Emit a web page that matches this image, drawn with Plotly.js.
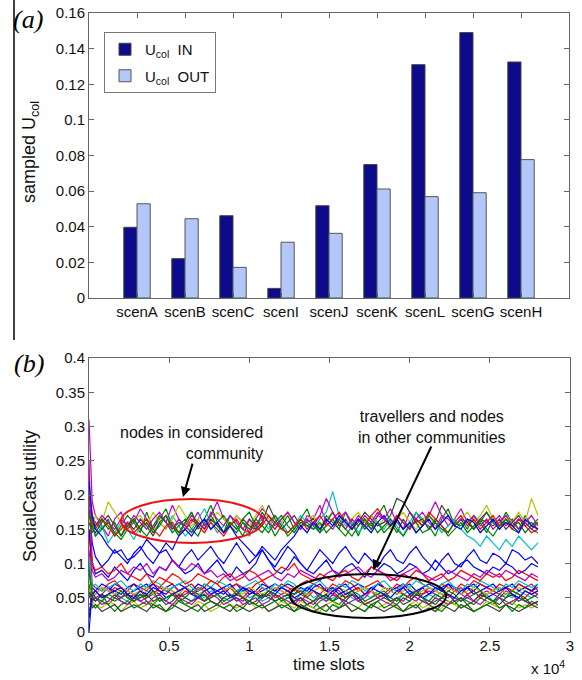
<!DOCTYPE html>
<html>
<head>
<meta charset="utf-8">
<script src="https://cdn.plot.ly/plotly-3.0.1.min.js"></script>
<style>
  html, body { margin: 0; padding: 0; background: #fff; }
  #chart { width: 582px; height: 680px; }
</style>
</head>
<body>
<div id="chart"></div>
<script>
// ---------- (a) sampled U_col per scenario ----------
const scenarios = ['scenA', 'scenB', 'scenC', 'scenI', 'scenJ', 'scenK', 'scenL', 'scenG', 'scenH'];
const scenarioPos = [1, 2, 3, 4, 5, 6, 7, 8, 9];
const ucolIn  = [0.0397, 0.0221, 0.0462, 0.0054, 0.0518, 0.0749, 0.1310, 0.1490, 0.1325];
const ucolOut = [0.0529, 0.0445, 0.0172, 0.0313, 0.0363, 0.0612, 0.0569, 0.0591, 0.0777];

// ---------- (b) SocialCast utility over time ----------
const timeSlots = [0,200,400,800,1200,1600,2000,2400,2800,3200,3600,4000,4400,4800,5200,5600,6000,6400,6800,7200,7600,8000,8400,8800,9200,9600,10000,10400,10800,11200,11600,12000,12400,12800,13200,13600,14000,14400,14800,15200,15600,16000,16400,16800,17200,17600,18000,18400,18800,19200,19600,20000,20400,20800,21200,21600,22000,22400,22800,23200,23600,24000,24400,24800,25200,25600,26000,26400,26800,27200,27600,28000];

// nodes in other communities and travellers (low band)
const low01 = [0,.06,.055,.065,.06,.07,.065,.055, .06,.065,.07,.06,.055,.065,.07,.06, .065,.055,.06,.07,.065,.06,.055,.065, .07,.06,.065,.055,.06,.065,.07,.065, .06,.055,.065,.06,.07,.065,.06,.055, .065,.07,.06,.065,.055,.06,.07,.065, .06,.055,.065,.07,.06,.065,.055,.06, .065,.07,.06,.055,.065,.06,.07,.065, .06,.065,.055,.06,.07,.065,.06,.065];
const low02 = [.1,.05,.045,.055,.04,.05,.045,.04, .05,.055,.045,.04,.05,.045,.055,.05, .04,.045,.05,.055,.045,.04,.05,.045, .055,.05,.045,.04,.05,.055,.045,.05, .04,.045,.05,.04,.035,.045,.05,.045, .04,.05,.055,.045,.04,.035,.045,.05, .045,.04,.05,.045,.055,.05,.04,.045, .05,.045,.04,.05,.045,.04,.05,.045, .04,.05,.045,.04,.05,.045,.04,.045];
const low03 = [.15,.07,.065,.06,.07,.075,.065,.06, .07,.065,.06,.07,.065,.075,.07,.06, .065,.07,.06,.065,.075,.07,.06,.065, .07,.065,.06,.07,.075,.065,.06,.07, .065,.06,.07,.075,.07,.065,.06,.07, .065,.075,.07,.06,.065,.07,.075,.065, .06,.07,.065,.075,.08,.07,.065,.06, .07,.065,.06,.07,.065,.075,.07,.065, .06,.07,.065,.06,.07,.065,.07,.06];
const low04 = [.05,.055,.05,.045,.055,.06,.05,.045, .055,.05,.06,.055,.045,.05,.055,.06, .05,.045,.055,.05,.06,.055,.05,.045, .055,.06,.05,.055,.045,.05,.06,.055, .05,.045,.055,.06,.05,.055,.045,.05, .055,.06,.05,.045,.055,.05,.06,.055, .045,.05,.055,.06,.05,.045,.055,.05, .06,.055,.05,.045,.055,.06,.05,.055, .045,.05,.055,.05,.06,.055,.05,.055];
const low05 = [.12,.06,.05,.055,.065,.055,.05,.06, .055,.045,.05,.06,.055,.065,.06,.05, .055,.06,.05,.045,.055,.06,.065,.055, .05,.045,.055,.06,.05,.055,.065,.06, .055,.05,.045,.055,.06,.05,.055,.065, .06,.05,.055,.045,.05,.06,.055,.05, .06,.065,.055,.05,.045,.055,.06,.055, .05,.06,.065,.055,.05,.045,.055,.06, .055,.05,.06,.055,.05,.06,.055,.05];
const low06 = [.08,.045,.04,.035,.045,.04,.03,.04, .045,.035,.04,.045,.035,.03,.04,.045, .04,.035,.045,.04,.03,.035,.045,.04, .035,.04,.045,.035,.04,.03,.035,.045, .04,.035,.045,.04,.035,.03,.04,.045, .035,.04,.03,.035,.045,.04,.035,.04, .045,.035,.03,.04,.045,.035,.04,.03, .035,.045,.04,.035,.04,.03,.035,.045, .04,.035,.04,.045,.035,.04,.035,.04];
const low07 = [.06,.035,.04,.03,.035,.04,.03,.035, .04,.035,.03,.04,.035,.03,.04,.035, .03,.035,.04,.03,.035,.04,.035,.03, .04,.035,.03,.035,.04,.03,.035,.04, .035,.03,.04,.035,.03,.035,.04,.03, .035,.04,.03,.035,.03,.04,.035,.03, .035,.04,.03,.035,.04,.03,.035,.03, .04,.035,.03,.04,.035,.03,.035,.04, .035,.03,.04,.035,.03,.035,.04,.035];
const low08 = [.09,.065,.06,.07,.065,.06,.055,.065, .07,.06,.065,.07,.06,.055,.065,.07, .065,.06,.07,.065,.055,.06,.065,.07, .06,.065,.055,.06,.07,.065,.06,.065, .07,.065,.06,.055,.065,.07,.06,.065, .055,.06,.065,.07,.065,.06,.07,.065, .06,.065,.07,.06,.055,.065,.07,.065, .06,.07,.065,.06,.065,.07,.06,.065, .07,.06,.065,.07,.06,.065,.06,.07];
const low09 = [.07,.04,.035,.045,.04,.03,.04,.045, .035,.04,.045,.035,.04,.03,.035,.045, .04,.035,.03,.04,.045,.04,.035,.04, .03,.035,.045,.04,.035,.04,.045,.035, .04,.03,.035,.04,.045,.035,.03,.04, .035,.045,.04,.035,.03,.04,.045,.035, .04,.035,.03,.04,.035,.045,.04,.035, .03,.04,.045,.035,.04,.03,.035,.04, .045,.035,.04,.03,.04,.035,.045,.04];
const low10 = [.05,.055,.06,.05,.055,.065,.06,.05, .055,.06,.05,.055,.065,.06,.055,.05, .06,.055,.065,.06,.05,.055,.06,.065, .055,.05,.06,.055,.065,.06,.05,.055, .06,.065,.055,.05,.06,.055,.065,.06, .05,.055,.06,.065,.055,.06,.05,.055, .065,.06,.055,.05,.06,.055,.065,.06, .055,.05,.06,.065,.055,.06,.05,.055, .06,.055,.065,.06,.055,.05,.06,.055];
const low11 = [.11,.065,.07,.06,.065,.07,.075,.065, .06,.07,.065,.075,.07,.06,.065,.07, .075,.065,.06,.07,.065,.075,.07,.065, .06,.065,.07,.075,.065,.06,.07,.065, .075,.07,.06,.065,.07,.075,.065,.06, .07,.065,.075,.07,.06,.065,.07,.075, .065,.06,.07,.065,.075,.07,.065,.06, .07,.075,.065,.06,.07,.065,.075,.07, .065,.06,.07,.065,.075,.07,.065,.07];
const low12 = [.04,.045,.05,.04,.045,.055,.045,.04, .05,.045,.04,.05,.055,.045,.04,.05, .045,.04,.05,.045,.055,.05,.04,.045, .05,.04,.045,.05,.04,.045,.055,.05, .045,.04,.05,.045,.04,.05,.045,.055, .05,.04,.045,.05,.04,.045,.05,.045, .04,.05,.045,.055,.05,.045,.04,.05, .045,.04,.05,.045,.055,.045,.04,.05, .045,.05,.04,.045,.05,.045,.04,.045];
const low13 = [.06,.06,.055,.065,.06,.055,.065,.06, .055,.06,.065,.055,.06,.065,.06,.055, .065,.06,.055,.06,.065,.055,.06,.065, .06,.055,.065,.06,.055,.06,.065,.06, .055,.065,.06,.055,.06,.065,.055,.06, .065,.06,.055,.06,.065,.06,.055,.065, .06,.055,.06,.065,.055,.06,.065,.06, .055,.065,.06,.055,.06,.065,.06,.055, .06,.065,.055,.06,.065,.06,.055,.06];
const low14 = [.03,.05,.045,.055,.05,.045,.05,.055, .045,.05,.055,.045,.05,.04,.045,.055, .05,.045,.05,.055,.045,.04,.05,.055, .045,.05,.04,.045,.055,.05,.045,.05, .055,.045,.05,.04,.045,.05,.055,.045, .05,.045,.055,.05,.04,.045,.05,.055, .045,.05,.04,.045,.055,.05,.045,.04, .05,.055,.045,.05,.04,.045,.055,.05, .045,.04,.05,.055,.045,.05,.04,.045];
const low15 = [.02,.055,.06,.05,.055,.06,.065,.055, .05,.06,.055,.065,.06,.05,.055,.06, .065,.055,.05,.06,.065,.055,.06,.05, .055,.065,.06,.055,.05,.06,.055,.065, .06,.05,.055,.065,.06,.055,.05,.06, .065,.055,.06,.05,.055,.065,.06,.055, .05,.06,.065,.055,.06,.05,.055,.065, .06,.055,.05,.06,.065,.055,.06,.05, .055,.06,.065,.055,.05,.06,.055,.06];
const low16 = [.09,.055,.05,.045,.055,.05,.06,.05, .045,.055,.05,.06,.045,.05,.055,.045, .05,.06,.055,.045,.05,.055,.045,.05, .06,.05,.045,.055,.05,.06,.055,.045, .05,.055,.06,.05,.045,.055,.05,.045, .055,.05,.06,.055,.045,.05,.055,.06, .05,.045,.055,.05,.06,.05,.045,.055, .05,.06,.055,.045,.05,.055,.06,.05, .045,.055,.05,.06,.055,.045,.05,.055];

// nodes wandering between the two groups
const mid01 = [.19,.13,.11,.095,.105,.12,.11,.1, .115,.125,.11,.1,.115,.12,.105,.095, .11,.12,.105,.115,.125,.11,.1,.115, .13,.115,.1,.11,.12,.105,.095,.11, .125,.115,.1,.09,.105,.12,.11,.1, .115,.125,.11,.1,.115,.105,.095,.11, .12,.105,.1,.115,.125,.11,.1,.09, .105,.115,.1,.095,.11,.12,.105,.1, .115,.11,.1,.12,.115,.105,.11,.1];
const mid02 = [.15,.1,.085,.09,.08,.095,.085,.075, .09,.1,.085,.08,.095,.09,.105,.095, .085,.09,.1,.085,.095,.105,.09,.08, .095,.085,.09,.1,.12,.105,.09,.085, .095,.11,.1,.09,.085,.095,.105,.09, .085,.095,.1,.09,.08,.095,.09,.1, .095,.085,.09,.1,.095,.085,.09,.105, .095,.085,.09,.1,.105,.095,.09,.085, .095,.09,.1,.095,.085,.09,.1,.095];
const mid03 = [.2,.1,.09,.095,.085,.09,.1,.085, .08,.075,.085,.07,.08,.075,.085,.08, .07,.075,.085,.08,.075,.07,.08,.085, .075,.08,.09,.085,.075,.08,.085,.095, .09,.1,.085,.08,.075,.085,.08,.075, .085,.09,.08,.075,.085,.095,.09,.085, .08,.075,.085,.08,.09,.085,.075,.08, .085,.075,.08,.09,.085,.08,.075,.085, .08,.085,.075,.08,.09,.085,.08,.075];
const mid04 = [.25,.09,.08,.085,.075,.08,.09,.085, .095,.09,.1,.085,.095,.09,.105,.095, .09,.1,.095,.085,.09,.08,.085,.075, .08,.085,.075,.08,.085,.09,.08,.075, .085,.08,.09,.085,.08,.075,.085,.09, .08,.085,.09,.095,.085,.08,.09,.085, .075,.08,.085,.09,.095,.085,.08,.075, .08,.09,.085,.08,.075,.085,.08,.09, .085,.08,.09,.085,.08,.075,.085,.08];

// nodes in the considered community (high band)
const high01 = [.21,.17,.16,.15,.165,.14,.155,.17, .16,.145,.175,.15,.165,.18,.155,.14, .16,.175,.15,.165,.185,.16,.145,.17, .155,.14,.165,.15,.175,.16,.14,.155, .17,.15,.165,.18,.155,.145,.17,.16, .15,.175,.16,.14,.165,.155,.17,.185, .16,.145,.165,.15,.175,.16,.155,.14, .165,.18,.155,.165,.15,.17,.16,.145, .165,.155,.175,.16,.15,.17,.155,.165];
const high02 = [.31,.19,.17,.155,.14,.165,.175,.15, .16,.18,.165,.15,.17,.16,.185,.165, .15,.16,.175,.155,.17,.19,.165,.155, .17,.16,.145,.165,.18,.17,.155,.165, .175,.16,.15,.17,.165,.185,.16,.15, .165,.175,.155,.17,.16,.15,.17,.165, .18,.16,.15,.175,.165,.155,.17,.19, .17,.155,.165,.18,.16,.15,.165,.175, .16,.17,.155,.165,.15,.16,.17,.155];
const high03 = [.2,.16,.14,.155,.13,.145,.16,.15, .135,.155,.165,.145,.16,.15,.17,.155, .14,.15,.165,.18,.16,.145,.155,.17, .16,.15,.14,.155,.165,.15,.17,.16, .145,.155,.17,.16,.15,.165,.175,.205, .17,.155,.16,.145,.155,.17,.16,.15, .165,.155,.14,.16,.175,.165,.15,.16, .145,.155,.165,.15,.14,.135,.125,.14, .13,.12,.135,.125,.14,.13,.12,.13];
const high04 = [.19,.15,.17,.16,.19,.175,.16,.15, .165,.17,.155,.175,.16,.15,.165,.185, .17,.155,.165,.15,.16,.175,.165,.155, .17,.16,.155,.17,.185,.165,.15,.16, .175,.16,.15,.165,.17,.155,.165,.175, .16,.15,.165,.175,.16,.17,.155,.165, .15,.165,.175,.16,.15,.165,.17,.155, .16,.17,.155,.165,.175,.16,.17,.185, .165,.155,.17,.16,.175,.16,.195,.17];
const high05 = [.18,.15,.145,.16,.17,.155,.14,.16, .15,.165,.155,.14,.16,.17,.15,.16, .155,.145,.16,.15,.165,.155,.145,.16, .15,.165,.155,.15,.16,.185,.165,.15, .16,.17,.155,.16,.165,.15,.16,.175, .155,.165,.15,.16,.175,.165,.155,.16, .17,.195,.19,.175,.16,.165,.15,.16, .185,.17,.155,.165,.16,.15,.165,.16, .155,.165,.15,.16,.17,.155,.16,.15];
const high06 = [.17,.155,.14,.15,.16,.145,.135,.15, .165,.15,.14,.155,.17,.16,.145,.155, .165,.15,.14,.16,.17,.155,.145,.16, .15,.165,.175,.155,.145,.16,.17,.155, .14,.15,.165,.155,.16,.145,.155,.165, .15,.14,.155,.165,.15,.16,.145,.155, .165,.15,.14,.155,.16,.145,.15,.165, .155,.14,.15,.16,.145,.155,.165,.15, .14,.155,.165,.15,.145,.16,.15,.145];
const high07 = [.2,.16,.15,.165,.155,.14,.15,.16, .145,.155,.165,.15,.14,.155,.16,.145, .15,.165,.155,.145,.16,.15,.14,.155, .165,.15,.145,.16,.155,.17,.16,.15, .145,.155,.165,.15,.16,.17,.155,.165, .175,.16,.15,.165,.155,.17,.18,.165, .155,.17,.16,.15,.165,.155,.175,.165, .155,.145,.16,.17,.155,.165,.15,.16, .17,.155,.16,.15,.165,.155,.145,.15];
const high08 = [.19,.165,.155,.17,.16,.15,.165,.155, .17,.16,.15,.165,.175,.16,.15,.165, .155,.17,.16,.15,.175,.165,.155,.17, .16,.15,.165,.155,.17,.16,.15,.165, .175,.16,.15,.165,.155,.17,.195,.175, .16,.15,.165,.155,.17,.16,.175,.165, .155,.17,.16,.15,.165,.175,.16,.15, .17,.165,.155,.165,.16,.17,.155,.165, .15,.16,.17,.155,.165,.16,.15,.16];
const high09 = [.16,.145,.155,.165,.15,.16,.14,.155, .165,.15,.16,.145,.155,.17,.155,.145, .16,.175,.155,.165,.15,.16,.17,.155, .145,.16,.15,.165,.155,.145,.16,.17, .155,.145,.16,.155,.15,.16,.145,.155, .165,.15,.14,.155,.165,.15,.16,.145, .155,.165,.15,.16,.145,.155,.17,.16, .15,.145,.16,.155,.165,.15,.16,.175, .16,.15,.165,.155,.16,.145,.155,.16];
const high10 = [.22,.17,.15,.14,.125,.115,.12,.105, .11,.12,.135,.125,.115,.13,.12,.14, .15,.14,.155,.165,.15,.16,.145,.155, .14,.13,.12,.11,.125,.115,.105,.12, .13,.14,.155,.145,.16,.15,.165,.155, .17,.16,.15,.165,.155,.145,.16,.17, .155,.165,.15,.16,.145,.155,.165,.15, .16,.17,.155,.15,.165,.16,.145,.155, .165,.15,.16,.155,.145,.165,.155,.15];

// MATLAB-style line colour order
const C = { b: '#0000ff', g: '#008000', r: '#ff0000', c: '#00bfbf', m: '#bf00bf', y: '#bfbf00', k: '#404040' };

const utilitySeries = [
  [low01, C.b], [low02, C.g], [low03, C.r], [low04, C.c], [low05, C.m], [low06, C.y], [low07, C.k],
  [low08, C.b], [low09, C.g], [low10, C.r], [low11, C.c], [low12, C.m], [low13, C.y], [low14, C.k],
  [low15, C.b], [low16, C.g],
  [mid01, C.b], [mid02, C.b], [mid03, C.r], [mid04, C.m],
  [high01, C.g], [high02, C.m], [high03, C.c], [high04, C.y], [high05, C.k],
  [high06, C.g], [high07, C.r], [high08, C.m], [high09, C.g], [high10, C.b]
];

const FONT = 'Liberation Sans, Arial, Helvetica, sans-serif';
const SERIF = 'Liberation Serif, Times New Roman, serif';

const traces = [
  {
    type: 'bar', x: scenarioPos, y: ucolIn, name: 'U<sub>col</sub>  IN', legendgroup: 'in',
    xaxis: 'x', yaxis: 'y',
    marker: { color: '#0b0b8c', line: { color: '#444', width: 1 } }
  },
  {
    type: 'bar', x: scenarioPos, y: ucolOut, name: 'U<sub>col</sub>  OUT', legendgroup: 'out',
    xaxis: 'x', yaxis: 'y',
    marker: { color: '#b3c8f8', line: { color: '#555', width: 1 } }
  }
];

utilitySeries.forEach(([vals, col]) => {
  traces.push({
    type: 'scatter', mode: 'lines', x: timeSlots, y: vals,
    xaxis: 'x2', yaxis: 'y2', showlegend: false, hoverinfo: 'skip',
    line: { color: col, width: 1.2 }
  });
});

const W = 582, H = 680;
const px = v => v / W;
const py = v => 1 - v / H;

const axisCommon = {
  showline: true, mirror: 'ticks', linecolor: '#666', linewidth: 1,
  ticks: 'inside', ticklen: 5, tickcolor: '#666', tickwidth: 1,
  showgrid: false, zeroline: false,
  tickfont: { family: FONT, size: 15, color: '#111' }
};

const layout = {
  width: W, height: H,
  margin: { l: 0, r: 0, t: 0, b: 0 },
  paper_bgcolor: '#fff', plot_bgcolor: '#fff',
  font: { family: FONT, size: 15, color: '#111' },
  barmode: 'group', bargap: 0.45, bargroupgap: 0,
  xaxis: Object.assign({}, axisCommon, {
    domain: [px(89), px(569)], range: [0, 10],
    tickvals: scenarioPos, ticktext: scenarios, anchor: 'y'
  }),
  yaxis: Object.assign({}, axisCommon, {
    domain: [py(298), py(13)], range: [0, 0.16], dtick: 0.02, anchor: 'x'
  }),
  xaxis2: Object.assign({}, axisCommon, {
    domain: [px(89), px(570)], range: [0, 30000],
    tickvals: [0, 5000, 10000, 15000, 20000, 25000, 30000],
    ticktext: ['0', '0.5', '1', '1.5', '2', '2.5', '3'], anchor: 'y2'
  }),
  yaxis2: Object.assign({}, axisCommon, {
    domain: [py(632), py(358)], range: [0, 0.4], dtick: 0.05, anchor: 'x2'
  }),
  showlegend: true,
  legend: {
    x: px(104), y: py(32), xanchor: 'left', yanchor: 'top',
    bgcolor: '#fff', bordercolor: '#777', borderwidth: 1,
    font: { family: FONT, size: 15, color: '#111' },
    itemwidth: 30, tracegroupgap: 4
  },
  shapes: [
    // vertical rule at the left of panel (a)
    { type: 'line', xref: 'paper', yref: 'paper', x0: px(14), x1: px(14), y0: py(0), y1: py(340),
      line: { color: '#000', width: 1.5 } },
    // group outlines
    { type: 'circle', xref: 'x2', yref: 'y2', x0: 2000, x1: 10850, y0: 0.130, y1: 0.194,
      line: { color: '#ee1111', width: 2 } },
    { type: 'circle', xref: 'x2', yref: 'y2', x0: 12540, x1: 22270, y0: 0.0204, y1: 0.0847,
      line: { color: '#000', width: 2 } }
  ],
  annotations: [
    { text: '(a)', xref: 'paper', yref: 'paper', x: px(11), y: py(19), xanchor: 'left', yanchor: 'middle',
      showarrow: false, font: { family: SERIF, size: 26, color: '#000', style: 'italic' } },
    { text: '(b)', xref: 'paper', yref: 'paper', x: px(12), y: py(363), xanchor: 'left', yanchor: 'middle',
      showarrow: false, font: { family: SERIF, size: 26, color: '#000', style: 'italic' } },
    { text: 'sampled U<sub>col</sub>', xref: 'paper', yref: 'paper', x: px(30), y: py(152), textangle: -90,
      xanchor: 'center', yanchor: 'middle', showarrow: false, font: { family: FONT, size: 18, color: '#111' } },
    { text: 'SocialCast utility', xref: 'paper', yref: 'paper', x: px(30), y: py(496), textangle: -90,
      xanchor: 'center', yanchor: 'middle', showarrow: false, font: { family: FONT, size: 18, color: '#111' } },
    { text: 'time slots', xref: 'paper', yref: 'paper', x: px(329), y: py(664),
      xanchor: 'center', yanchor: 'middle', showarrow: false, font: { family: FONT, size: 17, color: '#111' } },
    { text: 'x 10<sup>4</sup>', xref: 'paper', yref: 'paper', x: px(548), y: py(667),
      xanchor: 'center', yanchor: 'middle', showarrow: false, font: { family: FONT, size: 15, color: '#111' } },
    { text: 'nodes in considered<br>community', xref: 'paper', yref: 'paper', x: px(265), y: py(443),
      xanchor: 'right', yanchor: 'middle', align: 'right', showarrow: false,
      font: { family: FONT, size: 16, color: '#111' } },
    { text: 'travellers and nodes<br>in other communities', xref: 'paper', yref: 'paper', x: px(432), y: py(427),
      xanchor: 'center', yanchor: 'middle', align: 'center', showarrow: false,
      font: { family: FONT, size: 16, color: '#111' } },
    // arrows pointing at the two groups
    { text: '', xref: 'x2', yref: 'y2', x: 5863, y: 0.197, axref: 'x2', ayref: 'y2', ax: 6486, ay: 0.248,
      showarrow: true, arrowhead: 2, arrowsize: 1, arrowwidth: 2, arrowcolor: '#000' },
    { text: '', xref: 'x2', yref: 'y2', x: 17713, y: 0.0905, axref: 'x2', ayref: 'y2', ax: 21393, ay: 0.273,
      showarrow: true, arrowhead: 2, arrowsize: 1, arrowwidth: 2, arrowcolor: '#000' }
  ]
};

Plotly.newPlot('chart', traces, layout, { staticPlot: true, displayModeBar: false });
</script>
</body>
</html>
